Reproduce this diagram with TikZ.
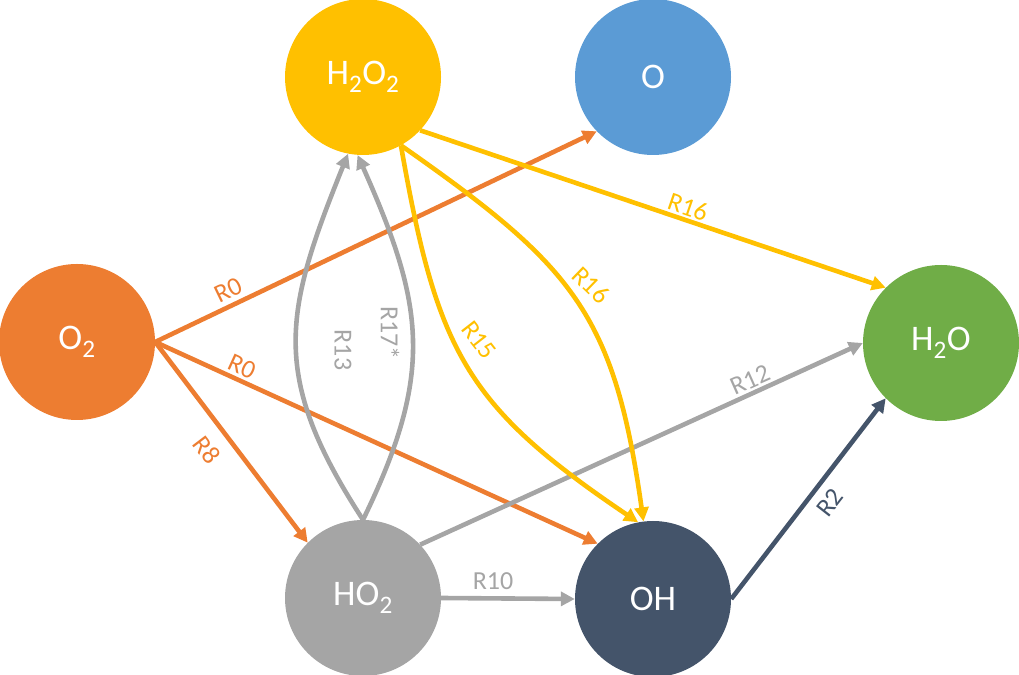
\documentclass[tikz,border=0pt]{standalone}
\usepackage{fontspec}
\setmainfont{Carlito}
\usetikzlibrary{arrows.meta}
\definecolor{corange}{HTML}{ED7D31}
\definecolor{cyellow}{HTML}{FFC000}
\definecolor{cblue}{HTML}{5B9BD5}
\definecolor{cgreen}{HTML}{70AD47}
\definecolor{cgray}{HTML}{A5A5A5}
\definecolor{cdark}{HTML}{44546A}
\begin{document}
\begin{tikzpicture}[x=1pt,y=1pt,
  species/.style={circle, minimum size=156pt, inner sep=0pt, text=white, font=\fontsize{36}{40}\selectfont},
  conn/.style={line width=4.6pt, -{Triangle[length=14pt,width=14pt]}},
  lbl/.style={font=\fontsize{26}{30}\selectfont, inner sep=0pt}]
\useasboundingbox (0,0) rectangle (1019,674);
% species
\node[species, fill=corange] (O2) at (77,332) {O\textsubscript{2}};
\node[species, fill=cyellow] (H2O2) at (363,597) {H\textsubscript{2}O\textsubscript{2}};
\node[species, fill=cblue] (O) at (653,597) {O};
\node[species, fill=cgreen] (H2O) at (941,331) {H\textsubscript{2}O};
\node[species, fill=cgray] (HO2) at (363,76) {HO\textsubscript{2}};
\node[species, fill=cdark] (OH) at (653,75) {OH};
% connectors
\draw[conn, corange] (O2.east) -- (O.224);
\draw[conn, corange] (O2.east) -- (OH.135);
\draw[conn, corange] (O2.east) -- (HO2.135);
\draw[conn, cgray] (HO2.east) -- (OH.west);
\draw[conn, cgray] (HO2.43) -- (H2O.west);
\draw[conn, cdark] (OH.east) -- (H2O.225);
\draw[conn, cyellow] (H2O2.317) -- (H2O.135);
\draw[conn, cyellow] (H2O2.-61) to[out=-35, in=98, looseness=1.2] (OH.97);
\draw[conn, cyellow] (H2O2.-61) to[out=-80, in=146, looseness=1.2] (OH.101);
\draw[conn, cgray] (HO2.north) to[out=123, in=-112, looseness=1.2] (H2O2.259);
\draw[conn, cgray] (HO2.north) to[out=64, in=-66, looseness=1.15] (H2O2.266);
% labels
\node[lbl, text=corange, rotate=25.7] (lR0a) at (228,384) {R0};
\node[lbl, text=corange, rotate=-24.5] (lR0b) at (242,307) {R0};
\node[lbl, text=corange, rotate=-52.7] (lR8) at (207,224) {R8};
\node[lbl, text=cgray, rotate=-90] (lR13) at (343,324) {R13};
\node[lbl, text=cgray, rotate=-90] (lR17) at (390,341) {R17*};
\node[lbl, text=cyellow, rotate=-52] (lR15) at (479,334) {R15};
\node[lbl, text=cyellow, rotate=-44] (lR16a) at (591,389) {R16};
\node[lbl, text=cyellow, rotate=-19] (lR16b) at (688,467) {R16};
\node[lbl, text=cgray, rotate=24] (lR12) at (750,294) {R12};
\node[lbl, text=cdark, rotate=52] (lR2) at (830,171) {R2};
\node[lbl, text=cgray] (lR10) at (493,93) {R10};
\end{tikzpicture}
\end{document}
